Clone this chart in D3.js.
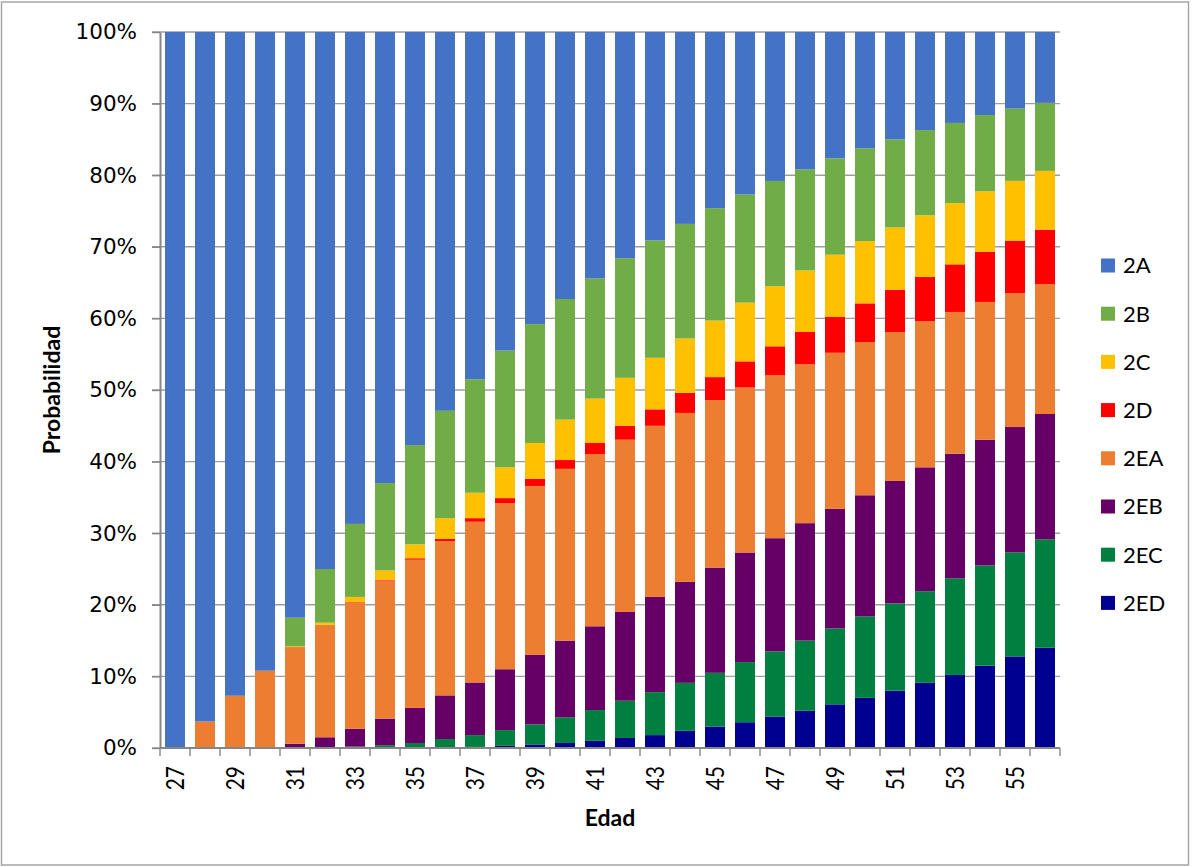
<!DOCTYPE html>
<html>
<head>
<meta charset="utf-8">
<script src="https://cdn.jsdelivr.net/npm/d3@7"></script>
<style>
  body { margin: 0; background: #fff; }
  #chart { width: 1192px; height: 867px; }
</style>
</head>
<body>
<div id="chart"></div>
<script>
// edades (eje x)
var ages = [27,28,29,30,31,32,33,34,35,36,37,38,39,40,41,42,43,44,45,46,47,48,49,50,51,52,53,54,55,56];

// probabilidad de cada grupo por edad (%)
var s2A  = [100,96.3,92.7,89.2,81.8,75.0,68.7,63.0,57.7,52.9,48.5,44.5,40.8,37.3,34.4,31.6,29.1,26.8,24.6,22.7,20.8,19.2,17.65,16.25,15.0,13.7,12.7,11.6,10.7,9.9];
var s2B  = [0,0,0,0,4.0,7.5,10.2,12.2,13.85,15.0,15.85,16.3,16.6,16.85,16.8,16.7,16.4,16.0,15.7,15.1,14.7,14.1,13.45,12.95,12.3,11.9,11.2,10.65,10.1,9.5];
var s2C  = [0,0,0,0,0.1,0.3,0.7,1.3,1.95,2.9,3.55,4.3,5.0,5.65,6.2,6.7,7.2,7.6,7.9,8.2,8.4,8.6,8.7,8.7,8.7,8.6,8.55,8.45,8.35,8.2];
var s2D  = [0,0,0,0,0,0,0.05,0.1,0.2,0.3,0.5,0.7,1.0,1.23,1.54,1.94,2.3,2.8,3.2,3.65,4.05,4.5,5.0,5.4,5.9,6.2,6.65,7.0,7.35,7.6];
var s2EA = [0,3.7,7.3,10.8,13.5,15.7,17.65,19.3,20.7,21.55,22.45,23.2,23.6,24.0,24.06,24.06,23.9,23.6,23.4,23.05,22.75,22.2,21.8,21.4,20.8,20.4,19.8,19.24,18.7,18.15];
var s2EB = [0,0,0,0,0.6,1.5,2.5,3.7,4.9,6.1,7.35,8.5,9.7,10.7,11.7,12.4,13.3,14.1,14.7,15.3,15.8,16.4,16.7,16.9,17.1,17.3,17.4,17.56,17.5,17.5];
var s2EC = [0,0,0,0,0,0,0.2,0.4,0.7,1.2,1.65,2.2,2.8,3.6,4.3,5.2,6.0,6.7,7.5,8.4,9.1,9.8,10.6,11.4,12.2,12.8,13.5,14.0,14.55,15.15];
var s2ED = [0,0,0,0,0,0,0,0,0,0.05,0.15,0.3,0.5,0.7,1.0,1.4,1.8,2.4,3.0,3.6,4.4,5.2,6.1,7.0,8.0,9.1,10.2,11.5,12.8,14.0];

var yTicks = [0,0.1,0.2,0.3,0.4,0.5,0.6,0.7,0.8,0.9,1];

(function(){
  var width = 1192,
    height = 867;

  // orden de apilado: de abajo hacia arriba
  var keys = ["2ED","2EC","2EB","2EA","2D","2C","2B","2A"];
  var colors = {
    "2A": "#4472C4", "2B": "#70AD47", "2C": "#FFC000", "2D": "#FF0000",
    "2EA": "#ED7D31", "2EB": "#660066", "2EC": "#008040", "2ED": "#000090"
  };
  var series = {"2A": s2A, "2B": s2B, "2C": s2C, "2D": s2D, "2EA": s2EA, "2EB": s2EB, "2EC": s2EC, "2ED": s2ED};

  var rows = ages.map(function(a, i){
    var r = {age: a};
    keys.forEach(function(k){ r[k] = series[k][i]; });
    return r;
  });

  var svg = d3.select("#chart")
    .append("svg")
    .attr("width", width)
    .attr("height", height)
    .style("font-family", "Lato, 'Open Sans', sans-serif");

  // marco del grafico
  svg.append("rect")
    .attr("x", 1.5).attr("y", 2)
    .attr("width", 1187).attr("height", 863)
    .attr("fill", "none")
    .attr("stroke", "#a6a6a6")
    .attr("stroke-width", 1.5);

  var x = d3.scaleBand()
    .domain(ages)
    .range([160, 1060])
    .paddingInner(1/3)
    .paddingOuter(1/6);

  var y = d3.scaleLinear()
    .domain([0, 1])
    .range([748, 32]);

  // lineas de cuadricula
  svg.append("g")
    .selectAll("line")
    .data(yTicks)
    .enter().append("line")
    .attr("x1", 152)
    .attr("x2", 1060)
    .attr("y1", function(d){ return y(d); })
    .attr("y2", function(d){ return y(d); })
    .attr("stroke", "#9d9d9d")
    .attr("stroke-width", 1.4);

  var stack = d3.stack()
    .keys(keys)
    .offset(d3.stackOffsetExpand);

  var layers = svg.append("g")
    .selectAll("g")
    .data(stack(rows))
    .enter().append("g")
    .attr("fill", function(d){ return colors[d.key]; });

  layers.selectAll("rect")
    .data(function(d){ return d; })
    .enter().append("rect")
    .attr("x", function(d){ return x(d.data.age); })
    .attr("width", x.bandwidth())
    .attr("y", function(d){ return y(d[1]); })
    .attr("height", function(d){ return y(d[0]) - y(d[1]); });

  // eje y
  var yAxis = svg.append("g")
    .attr("transform", "translate(160,0)")
    .call(d3.axisLeft(y).tickValues(yTicks).tickFormat(d3.format(".0%")).tickSizeInner(8).tickSizeOuter(0).tickPadding(15));
  yAxis.select(".domain").attr("stroke", "#868686").attr("stroke-width", 2);
  yAxis.selectAll(".tick line").attr("stroke", "#868686").attr("stroke-width", 1.4);
  yAxis.selectAll(".tick text")
    .attr("fill", "#000")
    .style("font-family", "'DejaVu Sans', Verdana, sans-serif")
    .style("font-size", "21.5px");

  // eje x: marcas entre categorias
  var gap = (x.step() - x.bandwidth()) / 2;
  var bounds = ages.map(function(a){ return x(a) - gap; }).concat([x.range()[1]]);

  svg.append("line")
    .attr("x1", x.range()[0]).attr("x2", x.range()[1])
    .attr("y1", y(0)).attr("y2", y(0))
    .attr("stroke", "#868686")
    .attr("stroke-width", 2);

  svg.append("g")
    .selectAll("line")
    .data(bounds)
    .enter().append("line")
    .attr("x1", function(d){ return d; })
    .attr("x2", function(d){ return d; })
    .attr("y1", y(0))
    .attr("y2", y(0) + 8)
    .attr("stroke", "#868686")
    .attr("stroke-width", 1.4);

  svg.append("g")
    .selectAll("text")
    .data(ages.filter(function(a){ return a % 2 === 1; }))
    .enter().append("text")
    .attr("transform", function(d){
      return "translate(" + (x(d) + x.bandwidth() / 2) + "," + (y(0) + 18) + ") rotate(-90) scale(1,1.2)";
    })
    .attr("text-anchor", "end")
    .attr("dy", "0.36em")
    .style("font-size", "21px")
    .text(function(d){ return d; });

  // titulos de ejes
  svg.append("text")
    .attr("x", 610)
    .attr("y", 826)
    .attr("text-anchor", "middle")
    .style("font-size", "23px")
    .style("font-weight", "bold")
    .text("Edad");

  svg.append("text")
    .attr("transform", "translate(60,390) rotate(-90)")
    .attr("text-anchor", "middle")
    .style("font-size", "23px")
    .style("font-weight", "bold")
    .text("Probabilidad");

  // leyenda (de arriba hacia abajo)
  var legendKeys = keys.slice().reverse();
  var legend = svg.append("g")
    .selectAll("g")
    .data(legendKeys)
    .enter().append("g")
    .attr("transform", function(d, i){ return "translate(1101," + (265.5 + i * 48.2) + ")"; });

  legend.append("rect")
    .attr("x", 0)
    .attr("y", -7)
    .attr("width", 14)
    .attr("height", 14)
    .attr("fill", function(d){ return colors[d]; });

  legend.append("text")
    .attr("x", 22)
    .attr("dy", "0.36em")
    .style("font-size", "22px")
    .text(function(d){ return d; });

})();
</script>
</body>
</html>
